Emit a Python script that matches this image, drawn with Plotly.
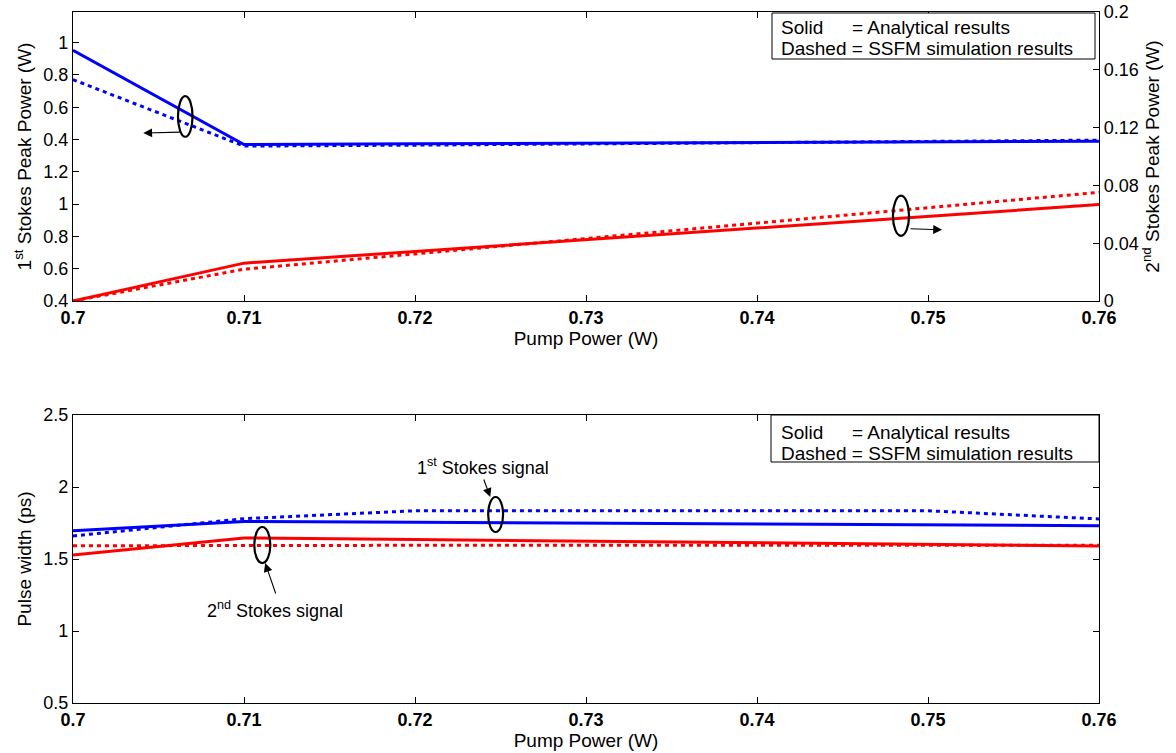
import plotly.graph_objects as go

# ---------------- data ----------------
pump_power = [0.70, 0.71, 0.72, 0.73, 0.74, 0.75, 0.76]

# top panel: 1st Stokes peak power (W)  (left axis, upper tick set)
stokes1_peak_analytical = [0.952, 0.369, 0.373, 0.377, 0.381, 0.385, 0.389]
stokes1_peak_ssfm = [0.771, 0.359, 0.365, 0.372, 0.380, 0.388, 0.396]
# top panel: 2nd Stokes peak power (W)  (right axis)
stokes2_peak_analytical = [0.0, 0.0262, 0.0343, 0.0424, 0.0505, 0.0586, 0.0667]
stokes2_peak_ssfm = [0.0, 0.0220, 0.0326, 0.0433, 0.0539, 0.0646, 0.0752]

# bottom panel: pulse width (ps)
stokes1_width_analytical = [1.697, 1.760, 1.755, 1.750, 1.740, 1.740, 1.731]
stokes1_width_ssfm = [1.660, 1.780, 1.835, 1.835, 1.835, 1.835, 1.778]
stokes2_width_analytical = [1.528, 1.646, 1.635, 1.625, 1.610, 1.600, 1.590]
stokes2_width_ssfm = [1.592, 1.595, 1.595, 1.595, 1.595, 1.595, 1.595]

x_tick_vals = [0.70, 0.71, 0.72, 0.73, 0.74, 0.75, 0.76]
x_tick_text = ["0.7", "0.71", "0.72", "0.73", "0.74", "0.75", "0.76"]

# left axis of top panel is a stacked axis (two tick sets on one scale)
left_tick_vals = [0.4, 0.6, 0.8, 1.0, 1.2, 1.4, 1.6, 1.8, 2.0]
left_tick_text = ["0.4", "0.6", "0.8", "1", "1.2", "0.4", "0.6", "0.8", "1"]
BLUE_OFFSET = 1.0  # upper tick set = lower scale + 1.0

right_tick_vals = [0, 0.04, 0.08, 0.12, 0.16, 0.2]
right_tick_text = ["0", "0.04", "0.08", "0.12", "0.16", "0.2"]

width_tick_vals = [0.5, 1, 1.5, 2, 2.5]
width_tick_text = ["0.5", "1", "1.5", "2", "2.5"]

# ---------------- styling ----------------
FONT = "Liberation Sans, Arial, sans-serif"
BLUE = "#0000FF"
RED = "#FF0000"
DOT = "4px,4px"
LW = 3

W, H = 1176, 753
ML, MR, MT, MB = 73, 77, 12, 50
PW, PH = W - ML - MR, H - MT - MB


def px(xp):
    return (xp - ML) / PW


def py(yp):
    return (H - MB - yp) / PH


fig = go.Figure()

blue_top_a = [v + BLUE_OFFSET for v in stokes1_peak_analytical]
blue_top_s = [v + BLUE_OFFSET for v in stokes1_peak_ssfm]

fig.add_trace(go.Scatter(x=pump_power, y=blue_top_a, mode="lines",
                         line=dict(color=BLUE, width=LW), xaxis="x", yaxis="y"))
fig.add_trace(go.Scatter(x=pump_power, y=blue_top_s, mode="lines",
                         line=dict(color=BLUE, width=LW, dash=DOT), xaxis="x", yaxis="y"))
fig.add_trace(go.Scatter(x=pump_power, y=stokes2_peak_ssfm, mode="lines",
                         line=dict(color=RED, width=LW, dash=DOT), xaxis="x", yaxis="y2"))
fig.add_trace(go.Scatter(x=pump_power, y=stokes2_peak_analytical, mode="lines",
                         line=dict(color=RED, width=LW), xaxis="x", yaxis="y2"))

fig.add_trace(go.Scatter(x=pump_power, y=stokes1_width_ssfm, mode="lines",
                         line=dict(color=BLUE, width=LW, dash=DOT), xaxis="x2", yaxis="y3"))
fig.add_trace(go.Scatter(x=pump_power, y=stokes1_width_analytical, mode="lines",
                         line=dict(color=BLUE, width=LW), xaxis="x2", yaxis="y3"))
fig.add_trace(go.Scatter(x=pump_power, y=stokes2_width_ssfm, mode="lines",
                         line=dict(color=RED, width=LW, dash=DOT), xaxis="x2", yaxis="y3"))
fig.add_trace(go.Scatter(x=pump_power, y=stokes2_width_analytical, mode="lines",
                         line=dict(color=RED, width=LW), xaxis="x2", yaxis="y3"))

top_dom = [py(301), py(12)]
bot_dom = [0.0, py(415)]

xcommon = dict(range=[0.7, 0.76], tickvals=x_tick_vals, ticktext=x_tick_text,
               ticks="inside", ticklen=6, tickcolor="black", showline=True,
               linecolor="black", linewidth=1.2, mirror="ticks", showgrid=False,
               zeroline=False, automargin=False,
               tickfont=dict(family=FONT, size=18, color="black", weight="bold"),
               title=dict(text="Pump Power (W)", standoff=4,
                          font=dict(family=FONT, size=19, color="black")))
ycommon = dict(ticks="inside", ticklen=6, tickcolor="black", showline=True,
               linecolor="black", linewidth=1.2, showgrid=False, zeroline=False,
               automargin=False,
               tickfont=dict(family=FONT, size=18, color="black"))

fig.update_layout(
    width=W, height=H,
    margin=dict(l=ML, r=MR, t=MT, b=MB),
    paper_bgcolor="white", plot_bgcolor="white",
    showlegend=False,
    font=dict(family=FONT, color="black"),
    xaxis=dict(domain=[0, 1], anchor="y", **xcommon),
    yaxis=dict(domain=top_dom, anchor="x", range=[0.4, 0.4 + 289 / 161.5],
               tickvals=left_tick_vals, ticktext=left_tick_text, mirror=False,
               title=dict(text="1<sup>st</sup> Stokes Peak Power (W)", standoff=6,
                          font=dict(family=FONT, size=19, color="black")),
               **ycommon),
    yaxis2=dict(overlaying="y", side="right", anchor="x", range=[0, 0.2],
                tickvals=right_tick_vals, ticktext=right_tick_text,
                title=dict(text="2<sup>nd</sup> Stokes Peak Power (W)", standoff=6,
                           font=dict(family=FONT, size=19, color="black")),
                **ycommon),
    xaxis2=dict(domain=[0, 1], anchor="y3", **xcommon),
    yaxis3=dict(domain=bot_dom, anchor="x2", range=[0.5, 2.5],
                tickvals=width_tick_vals, ticktext=width_tick_text, mirror="ticks",
                title=dict(text="Pulse width (ps)", standoff=6,
                           font=dict(family=FONT, size=19, color="black")),
                **ycommon),
)

# ---------------- annotations: ellipses & arrows ----------------
ell = dict(type="circle", line=dict(color="black", width=2.2), fillcolor="rgba(0,0,0,0)")
shapes = [
    dict(xref="x", yref="y", x0=0.70614, x1=0.70699, y0=1.417, y1=1.669, **ell),
    dict(xref="x", yref="y2", x0=0.74795, x1=0.74889, y0=0.0451, y1=0.0729, **ell),
    dict(xref="x2", yref="y3", x0=0.72428, x1=0.72515, y0=1.6875, y1=1.9306, **ell),
    dict(xref="x2", yref="y3", x0=0.71060, x1=0.71154, y0=1.4722, y1=1.7222, **ell),
    # legend-like boxes
    dict(type="rect", xref="paper", yref="paper", x0=px(772), x1=px(1095),
         y0=py(59), y1=py(13), line=dict(color="black", width=1), fillcolor="white",
         layer="above"),
    dict(type="rect", xref="paper", yref="paper", x0=px(771), x1=px(1099),
         y0=py(462), y1=py(415), line=dict(color="black", width=1), fillcolor="white",
         layer="above"),
]
fig.update_layout(shapes=shapes)

arr = dict(showarrow=True, arrowhead=2, arrowsize=1.6, arrowwidth=1.1,
           arrowcolor="black", text="")
annots = [
    dict(xref="x", yref="y", x=0.70411, y=1.440, ax=38, ay=-1, **arr),
    dict(xref="x", yref="y2", x=0.75082, y=0.0493, ax=-33, ay=-1, **arr),
    dict(xref="x2", yref="y3", x=0.72440, y=1.9306, ax=-7, ay=-19, **arr),
    dict(xref="x2", yref="y3", x=0.71124, y=1.4722, ax=11, ay=32, **arr),
    dict(xref="x2", yref="y3", x=0.72399, y=2.1458, text="1<sup>st</sup> Stokes signal",
         showarrow=False, font=dict(family=FONT, size=18, color="black")),
    dict(xref="x2", yref="y3", x=0.71183, y=1.1528, text="2<sup>nd</sup> Stokes signal",
         showarrow=False, font=dict(family=FONT, size=18, color="black")),
]
txt = dict(xref="paper", yref="paper", showarrow=False, xanchor="left", yanchor="middle",
           font=dict(family=FONT, size=19, color="black"))
for row1, row2 in [(27, 48), (432, 453)]:
    annots.append(dict(x=px(779), y=py(row1), text="Solid", **txt))
    annots.append(dict(x=px(850), y=py(row1), text="= Analytical results", **txt))
    annots.append(dict(x=px(779), y=py(row2), text="Dashed = SSFM simulation results", **txt))
fig.update_layout(annotations=annots)

fig.write_html("out.html")
